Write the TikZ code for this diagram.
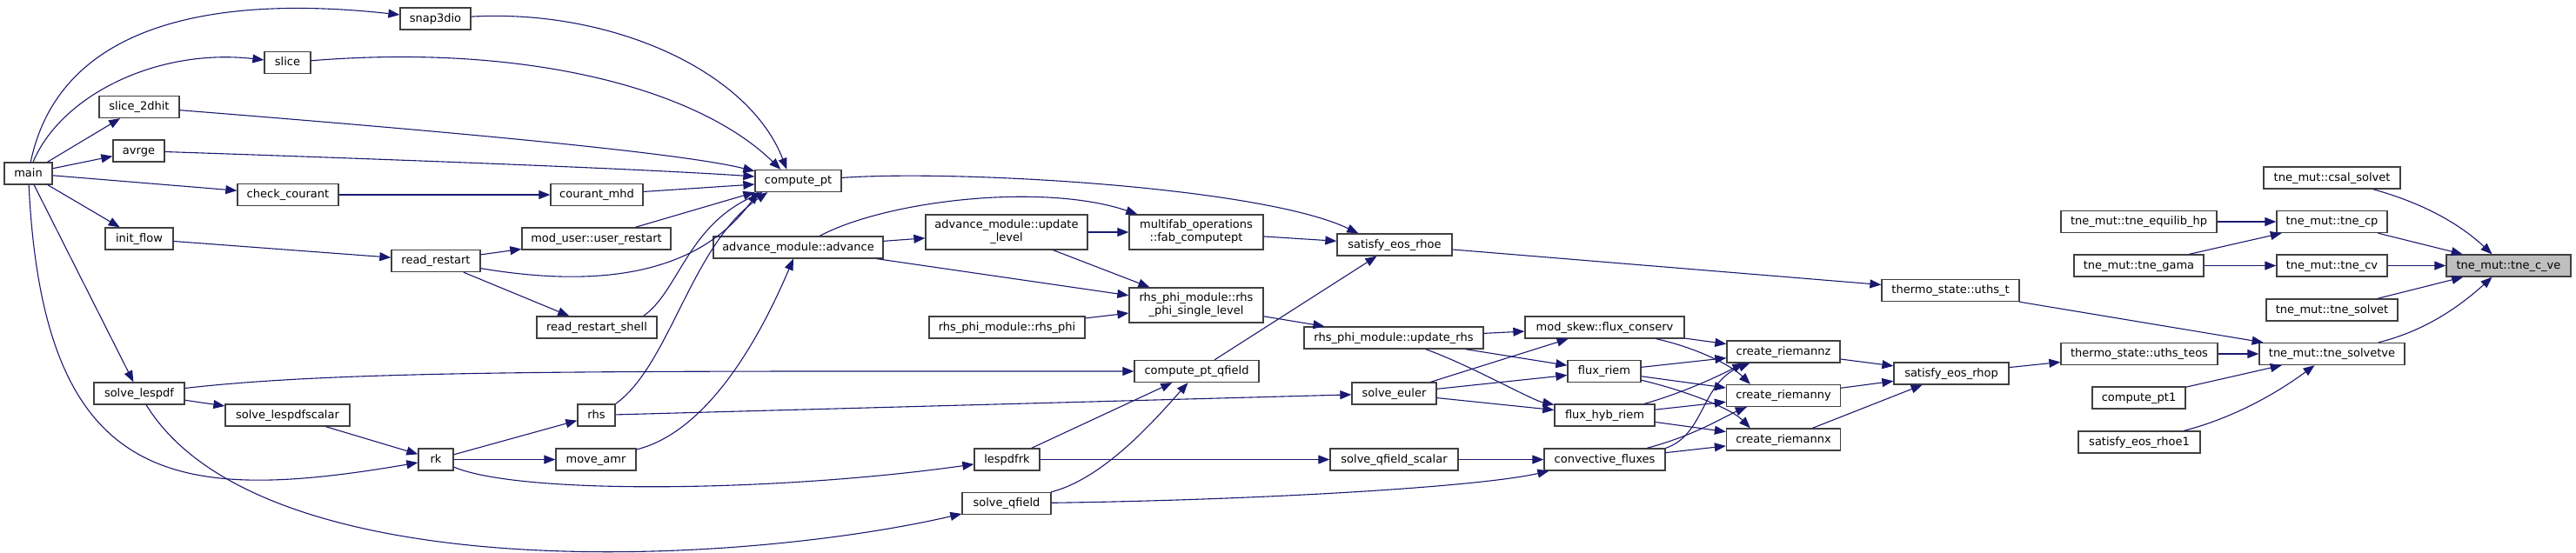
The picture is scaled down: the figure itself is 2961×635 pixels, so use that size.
\documentclass[tikz,border=0pt]{standalone}
\usepackage{fontspec}
\setmainfont{DejaVu Sans}
\usetikzlibrary{arrows.meta}
\definecolor{edgec}{HTML}{191970}
\definecolor{boxc}{HTML}{404040}
\definecolor{rootc}{HTML}{BFBFBF}
\begin{document}
\begin{tikzpicture}[x=1pt,y=-1pt,
  fbase/.style={draw=boxc, fill=white, line width=1.3pt, inner sep=0pt,
    font=\fontsize{13}{15}\selectfont},
  fn/.style={fbase, minimum height=25pt, text height=9.5pt, text depth=2.5pt},
  fn2/.style={fbase, minimum height=40pt, align=center},
  e/.style={draw=edgec, line width=1.1pt, -{Triangle[length=13pt,width=10pt]}}]
\useasboundingbox (0,0) rectangle (2961,635);

% nodes
\node[fn, minimum width=55pt] (main) at (32.5,199.5) {main};
\node[fn, minimum width=81pt] (snap) at (500.5,21.5) {snap3dio};
\node[fn, minimum width=53pt] (slice) at (330.5,72) {slice};
\node[fn, minimum width=92pt] (slice2d) at (160,123) {slice\_2dhit};
\node[fn, minimum width=59pt] (avrge) at (159.5,173.5) {avrge};
\node[fn, minimum width=116pt] (checkc) at (331,224) {check\_courant};
\node[fn, minimum width=78pt] (initf) at (160,274.5) {init\_flow};
\node[fn, minimum width=104pt] (lespdf) at (160,452.5) {solve\_lespdf};
\node[fn, minimum width=106pt] (courant) at (686,224) {courant\_mhd};
\node[fn, minimum width=171pt] (userrst) at (685.5,274.5) {mod\_user::user\_restart};
\node[fn, minimum width=102pt] (readrst) at (501,300) {read\_restart};
\node[fn, minimum width=138pt] (readshell) at (686,376.5) {read\_restart\_shell};
\node[fn, minimum width=143pt] (lesscal) at (330.5,477.5) {solve\_lespdfscalar};
\node[fn, minimum width=40pt] (rk) at (501,528.5) {rk};
\node[fn, minimum width=43pt] (rhs) at (685.5,477.5) {rhs};
\node[fn, minimum width=92pt] (moveamr) at (685,528.5) {move\_amr};
\node[fn, minimum width=99pt] (cpt) at (917.5,208) {compute\_pt};
\node[fn, minimum width=195pt] (advance) at (917.5,284.5) {advance\_module::advance};
\node[fn2, minimum width=186pt] (updlevel) at (1157,267) {advance\_module::update\\\_level};
\node[fn2, minimum width=154pt] (fabcpt) at (1375,267) {multifab\_operations\\::fab\_computept};
\node[fn2, minimum width=154pt] (rhsphisl) at (1375,351) {rhs\_phi\_module::rhs\\\_phi\_single\_level};
\node[fn, minimum width=179pt] (rhsphi) at (1157.5,376.5) {rhs\_phi\_module::rhs\_phi};
\node[fn, minimum width=143pt] (cptq) at (1375.5,427) {compute\_pt\_qfield};
\node[fn, minimum width=75pt] (lespdfrk) at (1157.5,528.5) {lespdfrk};
\node[fn, minimum width=102pt] (solveq) at (1157,579) {solve\_qfield};
\node[fn, minimum width=132pt] (eosrhoe) at (1603,281.5) {satisfy\_eos\_rhoe};
\node[fn, minimum width=206pt] (updrhs) at (1602,388.5) {rhs\_phi\_module::update\_rhs};
\node[fn, minimum width=97pt] (solveeuler) at (1602.5,452.5) {solve\_euler};
\node[fn, minimum width=147pt] (solveqs) at (1602.5,528.5) {solve\_qfield\_scalar};
\node[fn, minimum width=183pt] (fluxcons) at (1844.5,376.5) {mod\_skew::flux\_conserv};
\node[fn, minimum width=84pt] (fluxriem) at (1844,427) {flux\_riem};
\node[fn, minimum width=115pt] (fluxhyb) at (1844.5,477.5) {flux\_hyb\_riem};
\node[fn, minimum width=139pt] (convflux) at (1844.5,528.5) {convective\_fluxes};
\node[fn, minimum width=130pt] (crz) at (2050,404.5) {create\_riemannz};
\node[fn, minimum width=131pt] (cry) at (2050,455) {create\_riemanny};
\node[fn, minimum width=131pt] (crx) at (2050,505.5) {create\_riemannx};
\node[fn, minimum width=158pt] (uthst) at (2242,334) {thermo\_state::uths\_t};
\node[fn, minimum width=132pt] (eosrhop) at (2243,429.5) {satisfy\_eos\_rhop};
\node[fn, minimum width=180pt] (uthsteos) at (2459,407) {thermo\_state::uths\_teos};
\node[fn, minimum width=107pt] (cpt1) at (2458.5,457.5) {compute\_pt1};
\node[fn, minimum width=140pt] (eosrhoe1) at (2459,508.5) {satisfy\_eos\_rhoe1};
\node[fn, minimum width=179pt] (equilhp) at (2458.5,255) {tne\_mut::tne\_equilib\_hp};
\node[fn, minimum width=149pt] (gama) at (2458.5,305.5) {tne\_mut::tne\_gama};
\node[fn, minimum width=157pt] (csal) at (2680.5,204.5) {tne\_mut::csal\_solvet};
\node[fn, minimum width=127pt] (tnecp) at (2680.5,255) {tne\_mut::tne\_cp};
\node[fn, minimum width=127pt] (tnecv) at (2680.5,305.5) {tne\_mut::tne\_cv};
\node[fn, minimum width=151pt] (solvet) at (2680.5,356.5) {tne\_mut::tne\_solvet};
\node[fn, minimum width=167pt] (solvetve) at (2680.5,407) {tne\_mut::tne\_solvetve};
\node[fn, minimum width=143pt, fill=rootc] (cve) at (2883.5,305.5) {tne\_mut::tne\_c\_ve};

% edges from main
\draw[e] (main) .. controls (70,20) and (260,-5) .. (snap);
\draw[e] (main) .. controls (70,110) and (180,55) .. (slice);
\draw[e] (main) -- (slice2d);
\draw[e] (main) -- (avrge);
\draw[e] (main) -- (checkc);
\draw[e] (main) -- (initf);
\draw[e] (main) -- (lespdf);
\draw[e] (main) .. controls (50,560) and (200,580) .. (rk);

% into compute_pt
\draw[e] (snap) .. controls (700,10) and (860,80) .. ([xshift=37pt]cpt.north west);
\draw[e] (slice) .. controls (600,50) and (800,100) .. ([xshift=30pt]cpt.north west);
\draw[e] (slice2d) .. controls (500,150) and (780,175) .. ([yshift=-2pt]cpt.north west);
\draw[e] (avrge) .. controls (500,185) and (750,195) .. ([yshift=5pt]cpt.west);
\draw[e] (courant) -- ([yshift=-4pt]cpt.west);
\draw[e] (userrst) -- (cpt.south west);
\draw[e] (readrst) .. controls (680,330) and (800,320) .. ([xshift=4pt]cpt.south west);
\draw[e] ([xshift=-16pt]readshell.north east) .. controls (780,335) and (790,260) .. ([xshift=9pt]cpt.south west);
\draw[e] (rhs.north east) .. controls (770,420) and (795,280) .. ([xshift=15pt]cpt.south west);

% left part
\draw[e] (initf) -- (readrst);
\draw[e] (checkc) -- (courant);
\draw[e] (readrst) -- (userrst);
\draw[e] (readrst) -- (readshell);
\draw[e] (lespdf) -- (lesscal);
\draw[e] (lespdf) .. controls (400,425) and (700,427) .. (cptq);
\draw[e] (lespdf) .. controls (300,680) and (850,650) .. (solveq);
\draw[e] (lesscal) -- (rk);
\draw[e] (rk) -- (rhs);
\draw[e] (rk) -- (moveamr);
\draw[e] (rk) .. controls (600,570) and (900,565) .. (lespdfrk);
\draw[e] (moveamr) .. controls (800,500) and (860,420) .. (advance);
\draw[e] (rhs) -- (solveeuler);

% middle
\draw[e] (advance) -- (updlevel);
\draw[e] (advance) .. controls (1020,230) and (1200,210) .. ([xshift=10pt]fabcpt.north west);
\draw[e] (advance) -- (rhsphisl);
\draw[e] (updlevel) -- (fabcpt);
\draw[e] (updlevel) -- (rhsphisl);
\draw[e] (rhsphi) -- (rhsphisl);
\draw[e] (fabcpt) -- (eosrhoe);
\draw[e] (cpt) .. controls (1100,195) and (1450,215) .. ([xshift=25pt]eosrhoe.north west);
\draw[e] (cptq) -- (eosrhoe);
\draw[e] (lespdfrk) -- (cptq);
\draw[e] (lespdfrk) -- (solveqs);
\draw[e] (solveq) .. controls (1270,550) and (1330,480) .. ([xshift=-10pt]cptq.south);
\draw[e] (solveq) .. controls (1450,575) and (1700,560) .. ([xshift=6pt]convflux.south west);
\draw[e] (rhsphisl) -- (updrhs);
\draw[e] (solveqs) -- (convflux);
\draw[e] (eosrhoe) -- (uthst);

% flux layer
\draw[e] (updrhs) -- (fluxcons);
\draw[e] (updrhs) -- (fluxriem);
\draw[e] (updrhs) .. controls (1690,420) and (1760,460) .. (fluxhyb);
\draw[e] (solveeuler) -- (fluxcons);
\draw[e] (solveeuler) -- (fluxriem);
\draw[e] (solveeuler) -- (fluxhyb);

% riemann layer
\draw[e] (fluxcons) -- (crz);
\draw[e] (fluxcons) .. controls (1950,400) and (1990,420) .. ([xshift=28pt]cry.north west);
\draw[e] (fluxriem) -- (crz);
\draw[e] (fluxriem) -- (cry);
\draw[e] (fluxriem) .. controls (1940,450) and (1990,470) .. ([xshift=28pt]crx.north west);
\draw[e] (fluxhyb) .. controls (1940,450) and (1980,430) .. ([xshift=20pt]crz.south west);
\draw[e] (fluxhyb) -- (cry);
\draw[e] (fluxhyb) -- (crx);
\draw[e] (convflux.north east) .. controls (1960,500) and (1955,440) .. ([xshift=27pt]crz.south west);
\draw[e] (convflux) .. controls (1950,500) and (1980,480) .. ([xshift=24pt]cry.south west);
\draw[e] (convflux) -- (crx);
\draw[e] (crz) -- (eosrhop);
\draw[e] (cry) -- (eosrhop);
\draw[e] (crx) -- (eosrhop);

% right part
\draw[e] (eosrhop) -- (uthsteos);
\draw[e] (uthst) -- (solvetve);
\draw[e] (uthsteos) -- (solvetve);
\draw[e] (cpt1) -- (solvetve);
\draw[e] (eosrhoe1) .. controls (2570,480) and (2620,450) .. ([xshift=-20pt]solvetve.south);
\draw[e] (solvet) -- (cve);
\draw[e] (solvetve) .. controls (2790,380) and (2830,350) .. ([xshift=-19pt]cve.south);
\draw[e] (tnecv) -- (cve);
\draw[e] (tnecp) -- (cve);
\draw[e] (csal) .. controls (2790,235) and (2830,260) .. ([xshift=-19pt]cve.north);
\draw[e] (equilhp) -- (tnecp);
\draw[e] (gama) -- (tnecp);
\draw[e] (gama) -- (tnecv);
\end{tikzpicture}
\end{document}
